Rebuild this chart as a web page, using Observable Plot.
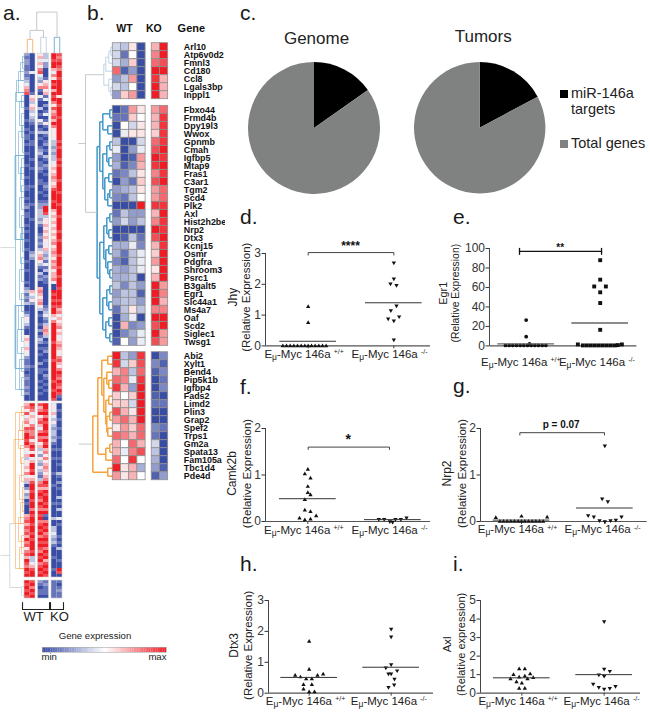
<!DOCTYPE html>
<html><head><meta charset="utf-8">
<script src="https://cdn.jsdelivr.net/npm/d3@7"></script>
<script src="https://cdn.jsdelivr.net/npm/@observablehq/plot@0.6"></script>
<style>
html,body{margin:0;padding:0;background:#fff}
#page{position:relative;width:650px;height:714px;overflow:hidden;font-family:"Liberation Sans",Arial,sans-serif;color:#1a1a1a}
#page svg{position:absolute;background:transparent;max-width:none}
.t{position:absolute;white-space:nowrap}
.letter{font-size:21px;line-height:24px}
.lg{font-size:14.5px;line-height:16px;color:#222}
.sq{position:absolute;width:8px;height:8px}
</style></head><body><div id="page"></div>
<script>
const FONT = '"Liberation Sans",Arial,sans-serif';

// ---------- panel a: column strings, one digit per row, 0 = min, 9 = max
const aBlock1 = [
 "2122112123 4678000010 0010010110 1001000100 0100110010 1201100101 0010010001 0010001023 1213001354 3100565465 4211210121 121200",
 "0000004000 0001563563 4321001001 1000010010 0000100000 1000010000 0000002320 0000000006 4352000000 0000000000 0000100000 000000",
 "5646578432 5710410030 1042013010 0123101121 0011001001 2233323100 1212135675 3103120067 6567530100 1020132010 1002011001 010100",
 "3342200015 6756140201 4015103101 2010310210 1001210101 2998355656 5654563231 4130211000 0000123421 3676301012 0010010210 101000",
 "9989964759 8969897586 7869754543 3232334565 6765689998 9965656565 6567567657 6756674009 8989899647 9999998999 9989999998 998998",
 "8789879989 9999599899 9899999998 9899989899 9989998999 8999899998 9989999899 9899899989 9989867465 6756456765 4786579879 879810"
];
const aBlock2 = [
 "6758467587 9989754635 4657463024 2301000678 6878697857 86987989",
 "9874654787 7857985946 9989568998 9989979899 8998989998 93346899",
 "8679578647 9785634253 2432137868 9879879897 8989798987 98978989",
 "9989798998 9798967575 6765679869 8998979107 9897898979 89689898",
 "4546435323 3231010010 0001000100 0001000030 0334323100 01000100",
 "0010010010 0100010010 1003102010 0301030040 1000101030 00100980"
];
const aBlock3 = ["989898","897989","210110","121110","111111","101211"];
const aColPos = [0,1,2.45,3.45,4.91,5.91];
const aOffsets = [0,116.67,175.67];
// dendrogram brackets: first row, last row, merge height
const aBlueTree = [[1,5,2],[3,9,4],[6,13,6],[9,16,8],[14,18,3],[16,24,5],[20,28,3],[24,33,2],[26,40,6],[35,42,3],[38,46,4],[44,52,3],[48,58,5],[54,62,3],[58,66,2],[60,70,4],[68,76,3],[72,82,5],[80,86,3],[84,92,6],[88,96,3],[92,100,7],[98,106,3],[102,112,5],[108,114,3],[13,112,9],[34,62,9.6],[34,62,8.6],[84,105,9.6],[84,105,8.6]];
const aOrangeTree = [[1,4,3],[3,9,5],[6,12,2],[9,15,6],[14,20,4],[18,26,3],[24,32,5],[28,36,2],[33,40,4],[38,46,6],[44,50,3],[48,55,5],[3,55,9],[12,40,10.5]];
const aPaleTree = [[2,5,3]];
const aGrayLinks = [[9,24,64.7],[9,14.7,156.7],[3,14.7,178],[14.7,24,167.3]];
const aGrayBars = [[156.7,178,14.7]];
const aColTree = {h:13.8,c:"#c4c8cc",kids:[{h:7.7,c:"#c4c8cc",kids:[{h:4.7,c:"#f3b77a",kids:[0,1]},{h:5.4,c:"#c9d2e2",kids:[2,3]}]},{h:5.4,c:"#7fb0d6",kids:[4,5]}]};

// ---------- panel b
const bGenes1 = ["Arl10","Atp6v0d2","Fmnl3","Cd180","Ccl8","Lgals3bp","Inppl1"];
const bRows1 = [[-2,-3,1,-9,3,9],[-2,-7,0,-9,5,9],[-2,-4,2,-9,6,7],[6,-8,-5,-9,9,9],[-5,-3,4,-9,8,3],[-2,-3,0,-9,9,3],[-5,2,4,-9,9,3]];
const bGenes2 = ["Fbxo44","Frmd4b","Dpy19l3","Wwox","Gpnmb","Cmah","Igfbp5","Mtap9","Fras1","C3ar1","Tgm2","Scd4","Plk2","Axl","Hist2h2be","Nrp2","Dtx3","Kcnj15","Osmr","Pdgfra","Shroom3","Psrc1","B3galt5","Egr1","Slc44a1","Ms4a7","Oaf","Scd2","Siglec1","Twsg1"];
const bRows2 = [[-9,-7,4,1,4,6],[-7,-7,2,0,3,8],[-9,0,-2,1,3,8],[-9,-1,1,1,2,8],[-3,-9,-9,-2,6,8],[-1,-9,-5,-1,7,9],[-5,-9,-8,4,9,8],[-4,-8,-6,3,8,9],[-7,-6,-3,1,5,8],[-9,-5,-7,2,7,9],[-5,-4,-3,1,4,6],[-6,-7,-3,0,4,6],[-9,-9,-9,9,8,8],[-7,-3,-5,-5,3,9],[-5,-2,-5,-3,5,8],[-9,-9,-9,-9,9,8],[-9,-8,-3,-7,7,9],[-4,-4,-1,-6,3,8],[-4,-7,-3,-1,2,9],[-6,-8,-3,-1,4,9],[-4,-5,-3,-1,1,9],[-4,-4,-3,-9,3,9],[-3,-6,-3,-5,9,4],[-5,-3,-3,-8,9,5],[-4,-3,-3,-5,9,3],[-7,-3,1,-3,5,5],[-9,-4,-1,-9,9,9],[-9,3,-6,-5,7,9],[-9,-6,-4,-1,9,4],[-8,0,-5,-1,7,4]];
const bGenes3 = ["Abi2","Xylt1","Bend4","Pip5k1b","Igfbp4","Fads2","Limd2","Plin3","Grap2","Spef2","Trps1","Gm2a","Spata13","Fam105a","Tbc1d4","Pde4d"];
const bRows3 = [[9,-3,-5,8,-9,-6],[8,-2,2,7,-6,-8],[3,5,-3,6,-8,-6],[6,5,-1,8,-9,-7],[8,3,-5,9,-9,-6],[2,0,2,9,-8,-9],[2,2,-2,9,-7,-7],[7,3,1,9,-9,-9],[4,6,3,9,-9,-9],[1,4,2,6,-6,-7],[6,5,3,6,-7,-9],[3,0,6,3,-2,-9],[3,-1,5,7,-3,-9],[6,0,8,0,-4,-9],[9,1,3,-4,-5,-8],[4,1,3,0,-8,-5]];
const bColPos = [0,1,2,3,4.75,5.75];
const bOffsets = [0,7.83,38.63];
// merge trees: [height, left, right]; numbers are rows
const bTree1 = [9,[7,[4,[2,0,1],2],3],[4,4,[2,5,6]]];
const bTree2 = [15.7,[13,[10,[3,0,1],[5,2,3]],[10,[6,[3,4,5],[4,6,7]],[8,[4,8,9],[5,[3,10,11],12]]]],[13,[9,[6,[3,13,14],[4,15,16]],[7,[4,17,18],[5,19,[3,20,21]]]],[10,[6,[3,22,23],[4,24,25]],[7,[4,26,27],[3,28,29]]]]];
const bTree3 = [20,[15,[11,[5,0,1],[9,[6,2,[4,3,4]],[7,[4,5,6],[6,[3,7,8],[5,9,10]]]]],[7,[3,11,12],13]],[5,14,15]];

// ---------- panel c
const pieGenome = [15.2,84.8];
const pieTumors = [17.2,82.8];
const pieColors = ["#000000","#808281"];

// ---------- panels d-i (x = sample offset within a column)
const dWtX = [0,0,-7.6,-6.5,-5.4,-4.3,-3.2,-2.1,-1,0,1,2.1,3.2,4.3,5.4];
const dWtY = [1.27,.75,0,0,0,0,0,0,0,0,0,0,0,0,0];
const dKoX = [0,0,-1,.8,.8,-.9,1.6,-1.7,0,0];
const dKoY = [2.7,2.18,2.02,1.97,1.3,1.15,.95,.88,.82,.2];
const eWtX = [0,0,1,-6.2,-5.1,-4,-2.9,-1.8,-.7,.4,1.5,2.6,3.7,4.8,5.9];
const eWtY = [26.5,9.5,2,.5,.5,.5,.5,.5,.5,.5,.5,.5,.5,.5,.5];
const eKoX = [0,0,-1.8,1.7,0,0,0,-6.7,-5.2,-4,-2.8,-1.6,-.4,.8,2,3.2,4.4,5.3,6.5];
const eKoY = [88,68,61,61,55,44,16.5,1.5,.5,.5,.5,.5,.5,.5,.5,.5,.5,.8,1.5];
const fWtX = [0,-.9,.8,0,0,.8,-.9,-.9,.8,2.5,-2.5,-.9,.8];
const fWtY = [1.12,1.02,.93,.75,.62,.57,.47,.24,.21,.12,.07,.03,.05];
const fKoX = [-4.2,-2.6,-.9,-.1,.8,2.4,4.1];
const fKoY = [.05,.05,0,-.01,.05,.05,.08];
const gWtX = [-7.7,0,7.7,-6.5,-5.4,-4.3,-3.2,-2.1,-1,0,1,2.1,3.2,4.3,5.4,6.5];
const gWtY = [.08,.11,.09,0,0,0,0,0,0,0,0,0,0,0,0,0];
const gKoX = [0,-.8,.9,-5,-3.3,-1.6,0,1.7,3.3,5];
const gKoY = [1.63,.49,.43,.13,.1,.02,0,.02,.03,.1];
const hWtX = [0,0,-4.2,-2.6,-.9,.8,2.5,4.2,-1.7,.8,-1.7,0,1.6];
const hWtY = [1.67,.77,.57,.52,.46,.46,.57,.61,.27,.27,.13,.04,.04];
const hKoX = [0,0,0,-1.6,1.8,-.8,0,1,.9,-.8];
const hKoY = [2.08,1.83,.93,.82,.73,.63,.63,.46,.27,.19];
const iWtX = [-.8,.9,-2.5,2.5,-.8,.9,-3.4,3.4,1.7,-1.6,0,-.8,.9];
const iWtY = [1.3,1.3,1,1.04,.86,.92,.76,.83,.76,.6,.54,.25,.25];
const iKoX = [0,0,1.7,-1.6,0,-3.3,-1.6,0,1.7,3.4];
const iKoY = [3.87,1.31,1.19,.99,.92,.5,.32,.22,.27,.38];

const page = document.getElementById("page");
const colorOpts = {type:"linear",domain:[-9,0,9],range:["#3a4da5","#ffffff","#ee1c25"]};
function place(svg,left,top){svg.style.left=left+"px";svg.style.top=top+"px";page.appendChild(svg);return svg;}
function addText(cls,txt,left,top,extra){const d=document.createElement("div");d.className="t "+cls;d.textContent=txt;d.style.left=left+"px";d.style.top=top+"px";if(extra)Object.assign(d.style,extra);page.appendChild(d);}

// tree helper: returns centre row; pushes segments
function treeLinks(node,leafPos,out,color){
  if(typeof node==="number") return {p:leafPos(node),h:0};
  const [h,a,b]=node;
  const A=treeLinks(a,leafPos,out,color),B=treeLinks(b,leafPos,out,color);
  out.push({h1:h,h2:h,p1:A.p,p2:B.p,color},{h1:h,h2:A.h,p1:A.p,p2:A.p,color},{h1:h,h2:B.h,p1:B.p,p2:B.p,color});
  return {p:(A.p+B.p)/2,h};
}

// ---------- panel a
{
  const clean=s=>s.replace(/ /g,"");
  const cells=[];
  [aBlock1,aBlock2,aBlock3].forEach((blk,bi)=>blk.forEach((s,c)=>{
    [...clean(s)].forEach((ch,r)=>cells.push({x1:aColPos[c],x2:aColPos[c]+1,y1:aOffsets[bi]+r,y2:aOffsets[bi]+r+1,v:(+ch-4.5)*2}));
  }));
  const frames=[];
  [aBlock1,aBlock2,aBlock3].forEach((blk,bi)=>[0,2,4].forEach(c=>frames.push({x1:aColPos[c],x2:aColPos[c]+2,y1:aOffsets[bi],y2:aOffsets[bi]+clean(blk[0]).length})));
  const PX=5.5, toX=h=>-h/PX;
  const segs=[];
  const addBr=(list,off,color,w)=>list.forEach(([a,b,h])=>{
    segs.push({x1:toX(h),x2:toX(h),y1:off+a,y2:off+b,color,w});
    segs.push({x1:toX(h),x2:0,y1:off+a,y2:off+a,color,w});
    segs.push({x1:toX(h),x2:0,y1:off+b,y2:off+b,color,w});
  });
  addBr(aBlueTree,aOffsets[0],"#62a9cf",.6);
  addBr(aOrangeTree,aOffsets[1],"#f4a953",.6);
  addBr(aPaleTree,aOffsets[2],"#bcd6e6",.6);
  aGrayLinks.forEach(([h1,h2,y])=>segs.push({x1:toX(h1),x2:toX(h2),y1:y,y2:y,color:"#c9cfd4",w:.8}));
  aGrayBars.forEach(([a,b,h])=>segs.push({x1:toX(h),x2:toX(h),y1:a,y2:b,color:"#c9cfd4",w:.8}));
  // column dendrogram
  const colSegs=[];
  (function walk(n){
    if(typeof n==="number") return {x:aColPos[n]+.5,h:0};
    const A=walk(n.kids[0]),B=walk(n.kids[1]);
    colSegs.push({x1:A.x,x2:B.x,y1:-n.h,y2:-n.h,color:n.c},{x1:A.x,x2:A.x,y1:-n.h,y2:-A.h,color:n.c},{x1:B.x,x2:B.x,y1:-n.h,y2:-B.h,color:n.c});
    return {x:(A.x+B.x)/2,h:n.h};
  })(aColTree);
  const under=[[{x:-.36,y:183},{x:-.36,y:185.33},{x:4.55,y:185.33},{x:4.55,y:183}],[{x:4.73,y:183},{x:4.73,y:185.33},{x:7.09,y:185.33},{x:7.09,y:183}]];
  place(Plot.plot({width:90,height:630,margin:0,style:{fontFamily:FONT},
    x:{domain:[-24/PX,66/PX],axis:null},y:{domain:[-53/3,577/3],reverse:true,axis:null},color:colorOpts,
    marks:[
      Plot.link(segs,{x1:"x1",x2:"x2",y1:"y1",y2:"y2",stroke:d=>d.color,strokeWidth:d=>d.w}),
      Plot.link(colSegs,{x1:"x1",x2:"x2",y1:"y1",y2:"y2",stroke:d=>d.color,strokeWidth:1}),
      Plot.rect(cells,{x1:"x1",x2:"x2",y1:"y1",y2:"y2",fill:"v"}),
      Plot.rect(frames,{x1:"x1",x2:"x2",y1:"y1",y2:"y2",fill:"none",stroke:"#cfcfcf",strokeWidth:.6}),
      under.map(u=>Plot.line(u,{x:"x",y:"y",stroke:"#222",strokeWidth:1.1})),
      Plot.text(["WT"],{x:[1.64],y:[189.33],text:d=>d,fontSize:13,lineAnchor:"bottom",fill:"#222"}),
      Plot.text(["KO"],{x:[6.36],y:[189.33],text:d=>d,fontSize:13,lineAnchor:"bottom",fill:"#222"})
    ]}),0,0);
}

// ---------- colour legend
{
  const steps=d3.range(-9,9,.25);
  place(Plot.plot({width:140,height:44,marginLeft:8,marginRight:8,marginTop:22,marginBottom:17,style:{fontFamily:FONT},
    x:{domain:[-9,9],axis:null},y:{axis:null},color:colorOpts,
    marks:[
      Plot.rect(steps,{x1:d=>d,x2:d=>d+.27,fill:d=>d}),
      Plot.frame({stroke:"#aaa",strokeWidth:.6}),
      Plot.text(["Gene expression"],{frameAnchor:"top",dy:-9,dx:-9.5,lineAnchor:"bottom",text:d=>d,fontSize:9.6,fill:"#222"}),
      Plot.text(["min"],{frameAnchor:"bottom-left",dy:7.5,dx:-1,lineAnchor:"bottom",text:d=>d,fontSize:9.6,fill:"#222"}),
      Plot.text(["max"],{frameAnchor:"bottom-right",dy:7.5,lineAnchor:"bottom",text:d=>d,fontSize:9.6,fill:"#222"})
    ]}),33.7,624.7);
}

// ---------- panel b
{
  const CW=8.2,RH=8,L=70,W=155,H=490,T=42.7,X0=112.3;
  const cells=[],labels=[],segs=[];
  [[bGenes1,bRows1],[bGenes2,bRows2],[bGenes3,bRows3]].forEach(([g,rows],bi)=>{
    rows.forEach((row,r)=>{
      row.forEach((v,c)=>cells.push({x1:bColPos[c],x2:bColPos[c]+1,y1:bOffsets[bi]+r,y2:bOffsets[bi]+r+1,v}));
      labels.push({g:g[r],y:bOffsets[bi]+r+.5});
    });
  });
  const leaf=off=>r=>off+r+.5;
  const R1=treeLinks(bTree1,leaf(bOffsets[0]),segs,"#bcd3e8");
  const R2=treeLinks(bTree2,leaf(bOffsets[1]),segs,"#3f97c8");
  const R3=treeLinks(bTree3,leaf(bOffsets[2]),segs,"#f5a23c");
  const gray="#c9c9c9", top=27.3;
  segs.push({h1:top,h2:top,p1:R1.p,p2:R2.p,color:gray},{h1:top,h2:R1.h,p1:R1.p,p2:R1.p,color:gray},{h1:top,h2:R2.h,p1:R2.p,p2:R2.p,color:gray},
    {h1:top,h2:top+7,p1:(R1.p+R2.p)/2,p2:(R1.p+R2.p)/2,color:gray},{h1:R3.h,h2:R3.h+14,p1:R3.p,p2:R3.p,color:gray});
  const toX=h=>-h/CW;
  place(Plot.plot({width:W,height:H,margin:0,style:{fontFamily:FONT},
    x:{domain:[(L-X0)/CW,(L+W-X0)/CW],axis:null},y:{domain:[-T/RH,(H-T)/RH],reverse:true,axis:null},color:colorOpts,
    marks:[
      Plot.link(segs,{x1:d=>toX(d.h1),x2:d=>toX(d.h2),y1:"p1",y2:"p2",stroke:d=>d.color,strokeWidth:d=>d.color==="#bcd3e8"||d.color===gray?1:1.5}),
      Plot.rect(cells,{x1:"x1",x2:"x2",y1:"y1",y2:"y2",fill:"v",stroke:"#8f8f8f",strokeWidth:.8}),
      Plot.text(labels,{x:()=>8.66,y:"y",text:"g",textAnchor:"start",fontSize:8.9,fontWeight:"bold",fill:"#111"}),
      Plot.text(["WT"],{x:[1.43],y:[-1.46],text:d=>d,fontSize:10.5,fontWeight:"bold",lineAnchor:"bottom",fill:"#111"}),
      Plot.text(["KO"],{x:[5],y:[-1.46],text:d=>d,fontSize:10.5,fontWeight:"bold",lineAnchor:"bottom",fill:"#111"}),
      Plot.text(["Gene"],{x:[7.9],y:[-1.46],text:d=>d,fontSize:11,fontWeight:"bold",textAnchor:"start",lineAnchor:"bottom",fill:"#111"})
    ]}),L,0);
}

// ---------- panel c
function pieMark(values){
  return (index,scales,vals,dims)=>{
    const cx=(dims.marginLeft+dims.width-dims.marginRight)/2, cy=(dims.marginTop+dims.height-dims.marginBottom)/2;
    const r=(dims.height-dims.marginTop-dims.marginBottom)/2;
    const arcs=d3.pie().sort(null)(values), arc=d3.arc().innerRadius(0).outerRadius(r);
    const g=d3.create("svg:g").attr("transform",`translate(${cx},${cy})`);
    g.selectAll("path").data(arcs).join("path").attr("d",arc).attr("fill",(d,i)=>pieColors[i]);
    return g.node();
  };
}
function pie(values,title,cx,cy,r,dx,dy){
  place(Plot.plot({width:2*r+30,height:2*r+42,marginLeft:15,marginRight:15,marginTop:42,marginBottom:0,style:{fontFamily:FONT},
    x:{axis:null},y:{axis:null},
    marks:[pieMark(values),Plot.text([title],{frameAnchor:"top",dx,dy,lineAnchor:"bottom",text:d=>d,fontSize:17,fill:"#222"})]}),cx-r-15,cy-r-42);
}
pie(pieGenome,"Genome",314,128,66,2,-19);
pie(pieTumors,"Tumors",480,128,65.7,3,-20.3);
addText("lg","miR-146a",571,84.5);
addText("lg","targets",571,101);
addText("lg","Total genes",571,135);
const s1=document.createElement("div");s1.className="sq";Object.assign(s1.style,{left:"560px",top:"90px",background:pieColors[0]});page.appendChild(s1);
const s2=document.createElement("div");s2.className="sq";Object.assign(s2.style,{left:"560px",top:"140px",background:pieColors[1]});page.appendChild(s2);

// ---------- scatter panels
const triDown={draw(ctx,size){const y=-Math.sqrt(size/(Math.sqrt(3)*3)),k=Math.sqrt(3);ctx.moveTo(0,-y*2);ctx.lineTo(k*y,y);ctx.lineTo(-k*y,y);ctx.closePath();}};
function scatter(c){
  const mL=60,mR=12,mT=30,mB=24,w=c.end-c.axis;
  const wt=c.wtX.map((o,i)=>({x:o,y:c.wtY[i]})), ko=c.koX.map((o,i)=>({x:c.sep+o,y:c.koY[i]}));
  const yMid=c.yMax/2;
  const marks=[
    Plot.ruleY([0],{stroke:"#555",strokeWidth:1.2}),
    Plot.ruleX([c.lo],{y1:0,y2:c.yMax,stroke:"#444",strokeWidth:1}),
    Plot.axisY({ticks:c.ticks,tickSize:3.5,tickPadding:1,fontSize:12,color:"#333",label:null,tickFormat:d3.format("d")}),
    c.xTick?Plot.axisX({ticks:[0,c.sep],tickSize:3,tickFormat:()=>"",label:null,color:"#444"}):null,
    Plot.dot(wt,{x:"x",y:"y",symbol:c.wtSym,r:c.wtR,fill:"#111",stroke:null}),
    Plot.dot(ko,{x:"x",y:"y",symbol:c.koSym,r:c.koR,fill:"#111",stroke:null}),
    Plot.ruleY([c.wtMean],{x1:-8.5,x2:8.5,stroke:c.ruleColor,strokeWidth:c.ruleW}),
    Plot.ruleY([c.koMean],{x1:c.sep-8.5,x2:c.sep+8.5,stroke:c.ruleColor,strokeWidth:c.ruleW}),
    Plot.text([c.ylab],{x:[c.lo],y:[yMid],text:d=>d,rotate:-90,dx:c.ylabDx[0],dy:c.ylabDy,fontSize:c.ylabSize+.5,fill:"#222"}),
    Plot.text([c.ylab2],{x:[c.lo],y:[yMid],text:d=>d,rotate:-90,dx:c.ylabDx[1],dy:c.ylabDy,fontSize:c.ylabSize,fill:"#222"}),
    Plot.text([c.xlabA],{x:[c.labX[0]],y:[0],dy:c.labDy,text:d=>d,fontSize:11.5,lineAnchor:"bottom",fill:"#222"}),
    Plot.text([c.xlabB],{x:[c.labX[1]],y:[0],dy:c.labDy,text:d=>d,fontSize:11.5,lineAnchor:"bottom",fill:"#222"})
  ];
  if(c.bracket){
    const b=c.bracket;
    const pts=b.both
      ?[[{x:b.x1,y:b.y-b.tip},{x:b.x1,y:b.y+b.tip}],[{x:b.x1,y:b.y},{x:b.x2,y:b.y}],[{x:b.x2,y:b.y-b.tip},{x:b.x2,y:b.y+b.tip}]]
      :[[{x:b.x1,y:b.y-b.tip},{x:b.x1,y:b.y},{x:b.x2,y:b.y},{x:b.x2,y:b.y-b.tip}]];
    pts.forEach(p=>marks.push(Plot.line(p,{x:"x",y:"y",stroke:b.color||"#444",strokeWidth:b.w||1})));
    marks.push(Plot.text([b.label],{x:[b.labelX],y:[b.labelY],text:d=>d,fontSize:b.fs,fontWeight:"bold",fill:"#111"}));
  }
  const svg=Plot.plot({width:mL+w+mR,height:mT+(c.y0-c.top)+mB,marginLeft:mL,marginRight:mR,marginTop:mT,marginBottom:mB,
    style:{fontFamily:FONT},x:{domain:[c.lo,c.hi],axis:null},y:{domain:[0,c.yMax],axis:null},marks:marks.filter(Boolean)});
  // E-mu subscript and genotype superscript as real text
  d3.select(svg).selectAll("text").each(function(){
    const m=/^(E)(μ)(-Myc 146a)(\s*)(.*)$/.exec(this.textContent);
    if(!m) return;
    const t=d3.select(this); t.text(null);
    t.append("tspan").text(m[1]);
    t.append("tspan").attr("dy",2).attr("font-size",8.5).text(m[2]);
    t.append("tspan").attr("dy",-2).text(m[3]+(m[4]?" ":""));
    t.append("tspan").attr("dy",-4).attr("font-size",7).text(m[5]);
  });
  place(svg,c.axis-mL,c.top-mT);
}
const labA="Eμ-Myc 146a +/+", labB="Eμ-Myc 146a -/-", rel="(Relative Expression)";
const TR=1.6, CR=1.9, SR=2.2;
scatter({axis:265,top:253.3,y0:345.7,end:430,lo:-12.8,hi:36.7,sep:25.7,yMax:3,ticks:[0,1,2,3],xTick:true,
  wtX:dWtX,wtY:dWtY,koX:dKoX,koY:dKoY,wtSym:"triangle",koSym:triDown,wtR:TR,koR:TR,wtMean:.15,koMean:1.4,ruleColor:"#333",ruleW:1,
  ylab:"Jhy",ylab2:rel,ylabDx:[-32,-19],ylabDy:-2.5,ylabSize:11.5,xlabA:labA,xlabB:labB,labX:[-1.2,24.4],labDy:12,
  bracket:{x1:0,x2:25.7,y:3.03,tip:.08,label:"****",labelX:12.7,labelY:3.24,fs:12}});
scatter({axis:489.3,top:248.3,y0:345.7,end:636.7,lo:-11,hi:33.2,sep:22.2,yMax:100,ticks:[0,20,40,60,80,100],xTick:false,
  wtX:eWtX,wtY:eWtY,koX:eKoX,koY:eKoY,wtSym:"circle",koSym:"square",wtR:CR,koR:SR,wtMean:2,koMean:23.5,ruleColor:"#666",ruleW:1.3,
  ylab:"Egr1",ylab2:rel,ylabDx:[-46,-34],ylabDy:-4,ylabSize:10.4,xlabA:labA,xlabB:labB,labX:[-1.6,21.2],labDy:20,
  bracket:{x1:-2,x2:22.6,y:97,tip:3,both:true,color:"#111",w:1.3,label:"**",labelX:10.2,labelY:100.5,fs:10}});
scatter({axis:265,top:427.7,y0:520.7,end:430,lo:-12.7,hi:36.8,sep:25.5,yMax:2,ticks:[0,1,2],xTick:true,
  wtX:fWtX,wtY:fWtY,koX:fKoX,koY:fKoY,wtSym:"triangle",koSym:triDown,wtR:TR,koR:TR,wtMean:.49,koMean:.04,ruleColor:"#333",ruleW:1,
  ylab:"Camk2b",ylab2:rel,ylabDx:[-33,-18],ylabDy:-1.5,ylabSize:11.5,xlabA:labA,xlabB:labB,labX:[-1.2,24.5],labDy:12,
  bracket:{x1:.1,x2:24.5,y:1.6,tip:.05,label:"*",labelX:12.1,labelY:1.76,fs:14}});
scatter({axis:480,top:427.7,y0:520.7,end:646.7,lo:-12.3,hi:37.7,sep:25,yMax:2,ticks:[0,1,2],xTick:true,
  wtX:gWtX,wtY:gWtY,koX:gKoX,koY:gKoY,wtSym:"triangle",koSym:triDown,wtR:TR,koR:TR,wtMean:.03,koMean:.29,ruleColor:"#333",ruleW:1,
  ylab:"Nrp2",ylab2:rel,ylabDx:[-33,-18],ylabDy:-1.5,ylabSize:11.5,xlabA:labA,xlabB:labB,labX:[-1.2,24.3],labDy:12,
  bracket:{x1:-.5,x2:24.9,y:1.91,tip:.05,label:"p = 0.07",labelX:11.9,labelY:2.07,fs:10}});
scatter({axis:268.3,top:600,y0:692.7,end:433.3,lo:-12.2,hi:37.3,sep:24.6,yMax:3,ticks:[0,1,2,3],xTick:true,
  wtX:hWtX,wtY:hWtY,koX:hKoX,koY:hKoY,wtSym:"triangle",koSym:triDown,wtR:TR,koR:TR,wtMean:.51,koMean:.84,ruleColor:"#333",ruleW:1,
  ylab:"Dtx3",ylab2:rel,ylabDx:[-34,-20],ylabDy:-1.5,ylabSize:11.5,xlabA:labA,xlabB:labB,labX:[-1.1,23.9],labDy:11.6});
scatter({axis:480,top:600,y0:692.7,end:640,lo:-12.4,hi:35.6,sep:24.7,yMax:5,ticks:[0,1,2,3,4,5],xTick:true,
  wtX:iWtX,wtY:iWtY,koX:iKoX,koY:iKoY,wtSym:"triangle",koSym:triDown,wtR:TR,koR:TR,wtMean:.83,koMean:1,ruleColor:"#333",ruleW:1,
  ylab:"Axl",ylab2:"(Relative expression)",ylabDx:[-33,-19],ylabDy:-2.5,ylabSize:11,xlabA:labA,xlabB:labB,labX:[-1.1,23.9],labDy:11.6});

// ---------- panel letters
[["a.",3,20],["b.",87,20],["c.",240,20],["d.",240,224],["e.",453,224],["f.",240,394],["g.",453,393],["h.",240,571],["i.",453,571]]
  .forEach(([s,x,b])=>addText("letter",s,x,b-19));
</script></body></html>
